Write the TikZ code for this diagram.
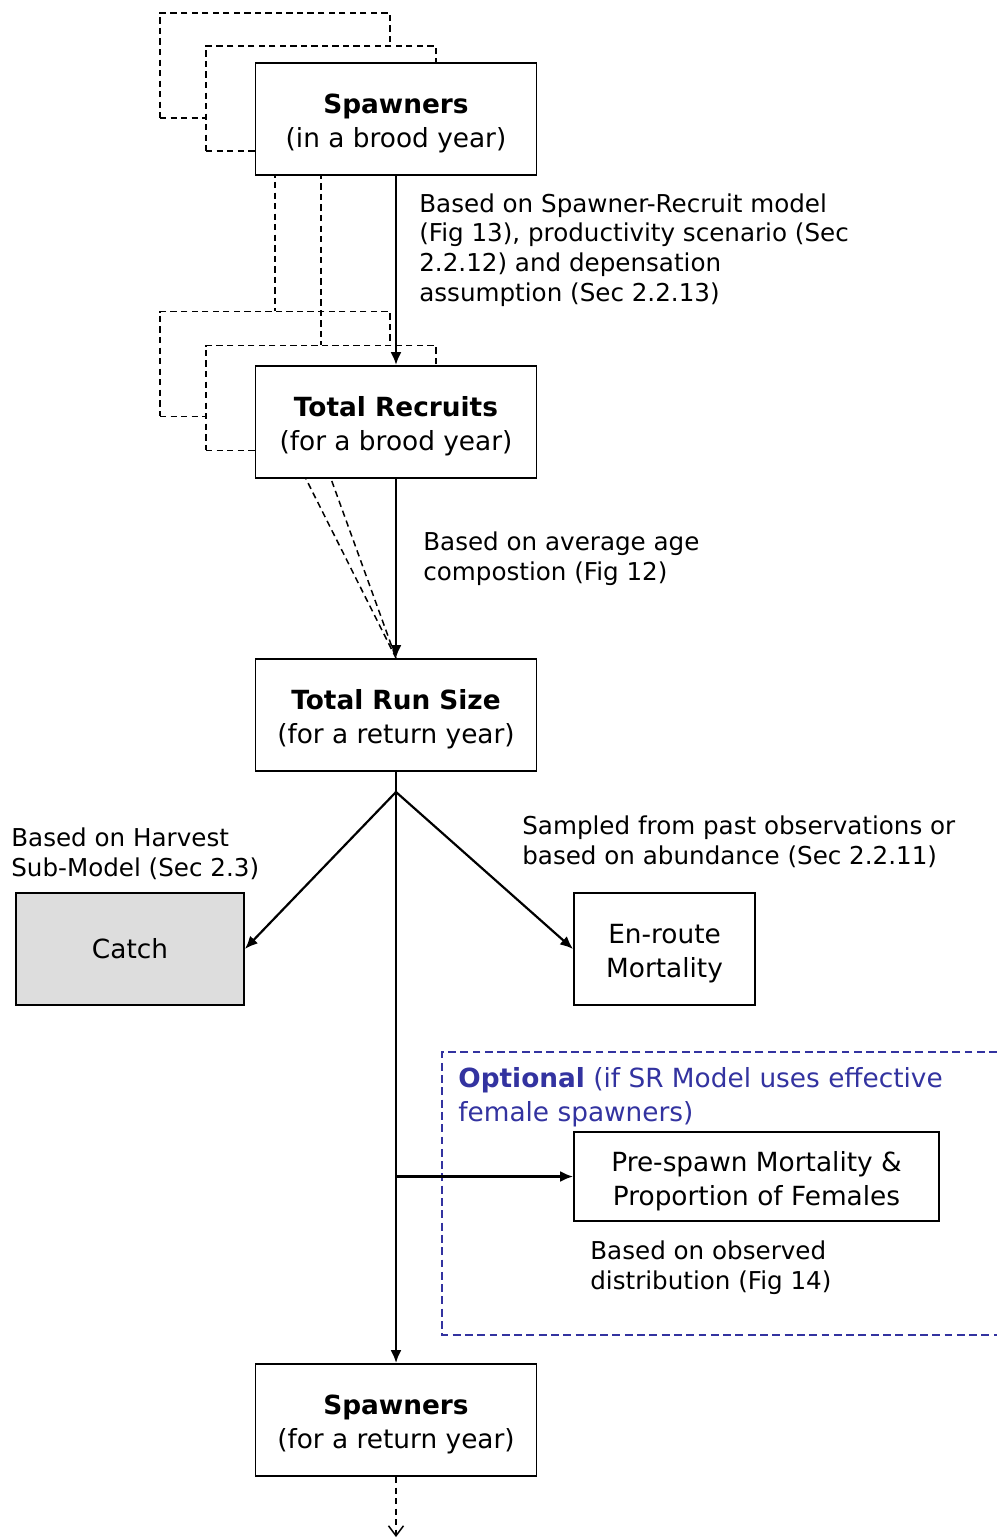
\documentclass[tikz,border=0pt]{standalone}
\usepackage{fontspec}
\setmainfont{DejaVu Sans}
\usetikzlibrary{arrows.meta, positioning}
\definecolor{optblue}{RGB}{51,51,160}
\definecolor{catchgray}{RGB}{221,221,221}
\newcommand{\toproom}{\rule{0pt}{16.5pt}}

\begin{document}
\begin{tikzpicture}[x=0.02cm, y=-0.02cm,
    box/.style={draw, line width=1.1pt, fill=white, align=center,
        minimum width=5.62cm, minimum height=2.24cm, inner sep=0pt,
        font=\fontsize{15}{19.6}\selectfont},
    ghost/.style={draw, dash pattern=on 3.6pt off 2.4pt, line width=0.85pt, fill=white,
        minimum width=4.6cm, minimum height=2.1cm, inner sep=0pt},
    ghostline/.style={dash pattern=on 3.6pt off 2.4pt, line width=0.85pt},
    flow/.style={line width=1.25pt, -{Latex[length=2.6mm,width=2.2mm]}},
    note/.style={anchor=west, align=left, inner sep=0pt,
        font=\fontsize{14}{16.9}\selectfont}]
        \useasboundingbox (0,0) rectangle (997,1539);

        % Earlier brood years (behind)
        \node[ghost] (sb1) at (275,65.5) {};
        \node[ghost] (sb2) at (321,98.5) {};
        \node[ghost] (rb1) at (275,364) {};
        \node[ghost] (rb2) at (321,398) {};
        \node[box] (run) at (396,715) {\toproom\textbf{Total Run Size}\\(for a return year)};

        \draw[ghostline] (sb1.south) -- (rb1.north);
        \draw[ghostline] (sb2.south) -- (rb2.north);
        \draw[ghostline] (rb1.south) -- (run.north);
        \draw[ghostline] (rb2.south) -- (run.north);

        % Brood year
        \node[box] (spawn) at (396,119) {\toproom\textbf{Spawners}\\(in a brood year)};
        \node[box] (recruits) at (396,422) {\toproom\textbf{Total Recruits}\\(for a brood year)};

        \draw[flow] (spawn.south) -- (recruits.north);
        \node[note] (srnote) at (419,250) {Based on Spawner-Recruit model\\(Fig 13), productivity scenario (Sec\\2.2.12) and depensation\\assumption (Sec 2.2.13)};

        \draw[flow] (recruits.south) -- (run.north);
        \node[note] (agenote) at (423,559) {Based on average age\\compostion (Fig 12)};

        % Return year
        \node[box, fill=catchgray, minimum width=4.56cm] (catch) at (130,949) {Catch};
        \node[box, minimum width=3.62cm] (enroute) at (664.5,949) {\toproom En-route\\Mortality};
        \node[note] (harvnote) at (11,854) {Based on Harvest\\Sub-Model (Sec 2.3)};
        \node[note] (obsnote) at (522,842) {Sampled from past observations or\\based on abundance (Sec 2.2.11)};

        \coordinate (split) at (396,792);
        \draw[flow] (split) -- (catch.east);
        \draw[flow] (split) -- (enroute.west);

        % Optional part
        \draw[optblue, dash pattern=on 4.5pt off 2.5pt, line width=0.85pt] (997,1052) -| (442,1335) -- (997,1335);
        \node[note, text=optblue, font=\fontsize{15}{19.3}\selectfont] (opttext) at (458,1097) {\textbf{Optional} (if SR Model uses effective\\female spawners)};
        \node[box, minimum width=7.3cm, minimum height=1.78cm] (prespawn) at (756.5,1176.5) {\toproom Pre-spawn Mortality \&\\Proportion of Females};
        \node[note] (distnote) at (590,1267.5) {Based on observed\\distribution (Fig 14)};

        \node[box] (spawnret) at (396,1420) {\toproom\textbf{Spawners}\\(for a return year)};
        \draw[flow] (run.south) -- (spawnret.north);
        \draw[flow] (run.south |- prespawn.west) -- (prespawn.west);

        % Next cycle
        \coordinate (nextyear) at (396,1537);
        \draw[ghostline, -{Straight Barb[length=2mm,width=3mm]}] (spawnret.south) -- (nextyear);

    \end{tikzpicture}
\end{document}
